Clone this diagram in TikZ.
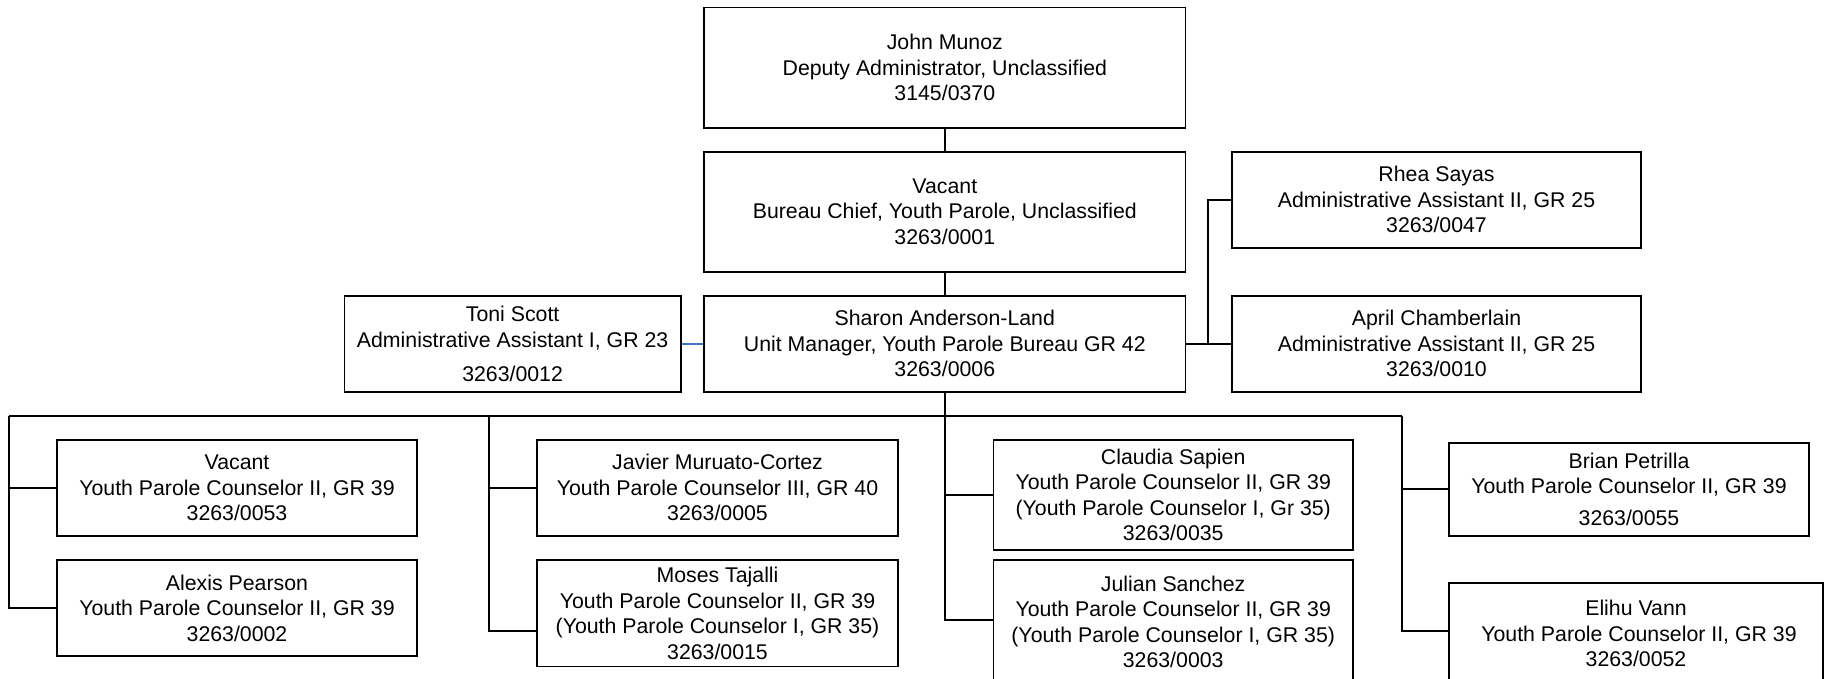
\documentclass[tikz,border=0pt]{standalone}
\usepackage{fontspec}
\setmainfont{Liberation Sans}
\definecolor{linkblue}{RGB}{68,114,196}
\begin{document}
\begin{tikzpicture}[x=1pt,y=-1pt,
  box/.style={draw=black, line width=1.6pt, rectangle, align=center, inner sep=0pt,
    font=\fontsize{21.3pt}{25.5pt}\selectfont},
  conn/.style={draw=black, line width=1.8pt},
  blueconn/.style={draw=linkblue, line width=1.7pt}]
\useasboundingbox (0,0) rectangle (1833,678);
\fill[white] (0,0) rectangle (1833,678);

% top chain
\node[box, minimum width=481.5pt, minimum height=120.4pt] (john) at (944.8,67.5)
  {John Munoz\\Deputy Administrator, Unclassified\\3145/0370};
\node[box, minimum width=481.5pt, minimum height=120pt] (bchief) at (944.8,211.7)
  {Vacant\\Bureau Chief, Youth Parole, Unclassified\\3263/0001};
\node[box, minimum width=481.5pt, minimum height=96pt] (sharon) at (944.8,343.7)
  {Sharon Anderson-Land\\Unit Manager, Youth Parole Bureau GR 42\\3263/0006};
\node[box, minimum width=336.2pt, minimum height=96pt] (toni) at (512.6,343.7)
  {Toni Scott\\Administrative Assistant I, GR 23\\[8.5pt]3263/0012};
\node[box, minimum width=409pt, minimum height=96pt] (rhea) at (1436.5,199.7)
  {Rhea Sayas\\Administrative Assistant II, GR 25\\3263/0047};
\node[box, minimum width=409pt, minimum height=96pt] (april) at (1436.5,343.7)
  {April Chamberlain\\Administrative Assistant II, GR 25\\3263/0010};

% bottom row
\node[box, minimum width=360pt, minimum height=95.7pt] (vac2) at (237,487.85)
  {Vacant\\Youth Parole Counselor II, GR 39\\3263/0053};
\node[box, minimum width=360pt, minimum height=96pt] (alexis) at (237,608)
  {Alexis Pearson\\Youth Parole Counselor II, GR 39\\3263/0002};
\node[box, minimum width=361pt, minimum height=95.7pt] (javier) at (717.5,487.85)
  {Javier Muruato-Cortez\\Youth Parole Counselor III, GR 40\\3263/0005};
\node[box, minimum width=361pt, minimum height=106.7pt] (moses) at (717.5,613.3)
  {Moses Tajalli\\Youth Parole Counselor II, GR 39\\(Youth Parole Counselor I, GR 35)\\3263/0015};
\node[box, minimum width=359.6pt, minimum height=110pt] (claudia) at (1173.2,495)
  {Claudia Sapien\\Youth Parole Counselor II, GR 39\\(Youth Parole Counselor I, Gr 35)\\3263/0035};
\node[box, minimum width=359.6pt, minimum height=124pt] (julian) at (1173.2,622)
  {Julian Sanchez\\Youth Parole Counselor II, GR 39\\(Youth Parole Counselor I, GR 35)\\3263/0003};
\node[box, minimum width=360pt, minimum height=93.3pt] (brian) at (1629,489.35)
  {Brian Petrilla\\Youth Parole Counselor II, GR 39\\[6pt]3263/0055};
\node[box, minimum width=374pt, minimum height=101pt] (elihu) at (1636,633.5)
  {Elihu Vann\\\hspace*{6pt}Youth Parole Counselor II, GR 39\\3263/0052};

% connectors
\draw[conn] (john.south) -- (bchief.north);
\draw[conn] (bchief.south) -- (sharon.north);
\draw[blueconn] (toni.east) -- (sharon.west);
\coordinate (j) at (1208,343.7);
\draw[conn] (sharon.east) -- (j) -- (april.west);
\draw[conn] (j) |- (rhea.west);

\coordinate (b1) at (8.8,416.3);
\coordinate (b2) at (488.8,416.3);
\coordinate (b3) at (944.8,416.3);
\coordinate (b4) at (1401.7,416.3);
\draw[conn] (sharon.south) -- (b3);
\draw[conn] (b1) -- (b4);
\draw[conn] (b1) |- (vac2.west);
\draw[conn] (b1) |- (alexis.west);
\draw[conn] (b2) |- (javier.west);
\draw[conn] (b2) |- ([yshift=-17.4pt]moses.west);
\draw[conn] (b3) |- (claudia.west);
\draw[conn] (b3) |- ([yshift=2pt]julian.west);
\draw[conn] (b4) |- (brian.west);
\draw[conn] (b4) |- ([yshift=2.5pt]elihu.west);
\end{tikzpicture}
\end{document}
